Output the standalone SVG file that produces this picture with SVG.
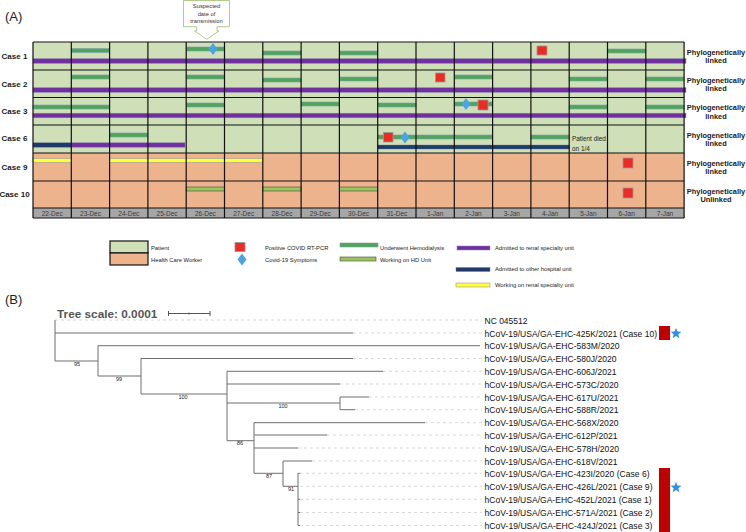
<svg xmlns="http://www.w3.org/2000/svg" width="746" height="532" viewBox="0 0 746 532">
<style>
text{font-family:"Liberation Sans",Arial,sans-serif}
.hd{fill:#4FA65A;stroke:#7E9FAA;stroke-width:0.6}
.pu{fill:#7030A0;stroke:#8B80B5;stroke-width:0.5}
.nv{fill:#1F3A68;stroke:#6A7A9A;stroke-width:0.4}
.ye{fill:#FFFF3C;stroke:#9A9A9A;stroke-width:0.6}
.lg{fill:#9BC45A;stroke:#4A4A4A;stroke-width:0.6}
.rs{fill:#EE2A24;stroke:#9A9A9A;stroke-width:0.8}
.dm{fill:#4BA3E3}
.case{font-size:8px;font-weight:bold;fill:#1a1a1a;text-anchor:middle}
.phy{font-size:7.4px;font-weight:bold;fill:#1a1a1a;text-anchor:middle}
.date{font-size:6.5px;fill:#3a3a3a;text-anchor:middle}
.leg{font-size:5.8px;fill:#1a1a1a}
.grid{stroke:#111;stroke-width:1.2;fill:none}
.br{stroke:#6E6E6E;stroke-width:1;fill:none}
.ds{stroke:#CFCFCF;stroke-width:0.8;stroke-dasharray:3,3;fill:none}
.tip{font-size:9.4px;fill:#111}
.bs{font-size:5.5px;fill:#222;text-anchor:middle}
.star{fill:#2F8FE0}
</style>
<defs>
<path id="dia" d="M0,-6 L4.5,0 L0,6 L-4.5,0 Z"/>
<path id="star" d="M0,-5.8 L1.4,-1.9 L5.5,-1.8 L2.3,0.75 L3.4,4.7 L0,2.4 L-3.4,4.7 L-2.3,0.75 L-5.5,-1.8 L-1.4,-1.9 Z"/>
</defs>

<text x="5" y="21" font-size="13" fill="#222">(A)</text>

<g id="callout">
<path d="M183.5,0.5 L229.5,0.5 L229.5,26.7 L217,26.7 L217,31 L219,31 L206.7,39.3 L194.5,31 L196.7,31 L196.7,26.7 L183.5,26.7 Z" fill="#fff" stroke="#A9C47F" stroke-width="0.9"/>
<text x="206.5" y="8" font-size="5.8" fill="#333" text-anchor="middle">Suspected</text>
<text x="206.5" y="15.5" font-size="5.8" fill="#333" text-anchor="middle">date of</text>
<text x="206.5" y="23" font-size="5.8" fill="#333" text-anchor="middle">transmission</text>
</g>

<g id="grid-background">
<rect x="33" y="42" width="651.1" height="111" fill="#CFE0B9"/>
<rect x="33" y="153" width="651.1" height="55" fill="#EDB38C"/>
<rect x="33" y="208" width="651.1" height="10" fill="#A6A6A6"/>
</g>

<g id="case1">
<text class="case" x="14.5" y="59">Case 1</text>
<rect class="hd" x="71.3" y="48.5" width="38.3" height="4"/>
<rect class="hd" x="186.2" y="47" width="38.3" height="4"/>
<use href="#dia" class="dm" x="213" y="49"/>
<rect class="hd" x="262.8" y="51" width="38.3" height="4"/>
<rect class="hd" x="339.4" y="51" width="38.3" height="4"/>
<rect class="rs" x="537" y="46" width="10" height="9"/>
<rect class="hd" x="607.5" y="49" width="38.3" height="4"/>
<rect class="pu" x="33" y="58.7" width="653" height="4.6"/>
<text class="phy" x="716" y="54.5">Phylogenetically</text>
<text class="phy" x="716" y="63">linked</text>
</g>

<g id="case2">
<text class="case" x="14.5" y="87">Case 2</text>
<rect class="hd" x="71.3" y="75" width="38.3" height="4"/>
<rect class="hd" x="186.2" y="75" width="38.3" height="4"/>
<rect class="hd" x="262.8" y="78" width="38.3" height="4"/>
<rect class="hd" x="339.4" y="77" width="38.3" height="4"/>
<rect class="rs" x="435.5" y="73" width="9.5" height="9"/>
<rect class="hd" x="454.3" y="75" width="38.3" height="4"/>
<rect class="hd" x="569.2" y="77" width="38.3" height="4"/>
<rect class="hd" x="645.8" y="77" width="38.3" height="4"/>
<rect class="pu" x="33" y="87.7" width="653" height="4.6"/>
<text class="phy" x="716" y="82.5">Phylogenetically</text>
<text class="phy" x="716" y="91">linked</text>
</g>

<g id="case3">
<text class="case" x="14.5" y="114">Case 3</text>
<rect class="hd" x="33" y="105" width="76.6" height="4"/>
<rect class="hd" x="186.2" y="103" width="38.3" height="4"/>
<rect class="hd" x="301.1" y="102" width="38.3" height="4"/>
<rect class="hd" x="377.7" y="103" width="38.3" height="4"/>
<rect class="hd" x="454.3" y="102" width="38.3" height="4"/>
<use href="#dia" class="dm" x="466" y="104"/>
<rect class="rs" x="478" y="100" width="10" height="10"/>
<rect class="hd" x="569.2" y="105" width="38.3" height="4"/>
<rect class="hd" x="645.8" y="105" width="38.3" height="4"/>
<rect class="pu" x="33" y="113.2" width="653" height="4.6"/>
<text class="phy" x="716" y="110">Phylogenetically</text>
<text class="phy" x="716" y="118.5">linked</text>
</g>

<g id="case6">
<text class="case" x="14.5" y="141">Case 6</text>
<rect class="nv" x="33" y="142.8" width="38.3" height="4.4"/>
<rect class="pu" x="71.3" y="142.8" width="113.7" height="4.4"/>
<rect class="hd" x="109.6" y="133" width="38.3" height="4"/>
<rect class="hd" x="377.7" y="135" width="114.9" height="4"/>
<rect class="rs" x="383.5" y="132.5" width="9.5" height="9.5"/>
<use href="#dia" class="dm" x="405" y="137.5"/>
<rect class="hd" x="530.9" y="135" width="38.3" height="4"/>
<rect class="nv" x="377.7" y="145" width="191.5" height="4"/>
<text x="572" y="140.5" font-size="6.4" fill="#222">Patient died</text>
<text x="572" y="150.5" font-size="6.4" fill="#222">on 1/4</text>
<text class="phy" x="716" y="137.5">Phylogenetically</text>
<text class="phy" x="716" y="146">linked</text>
</g>

<g id="case9">
<text class="case" x="14.5" y="169.5">Case 9</text>
<rect class="ye" x="33" y="158.5" width="38.3" height="4"/>
<rect class="ye" x="109.6" y="158.5" width="153.2" height="4"/>
<rect class="rs" x="623" y="158" width="10" height="10"/>
<text class="phy" x="716" y="165.5">Phylogenetically</text>
<text class="phy" x="716" y="174">linked</text>
</g>

<g id="case10">
<text class="case" x="14.5" y="197">Case 10</text>
<rect class="lg" x="186.2" y="187" width="38.3" height="4"/>
<rect class="lg" x="262.8" y="187" width="38.3" height="4"/>
<rect class="lg" x="339.4" y="187" width="38.3" height="4"/>
<rect class="rs" x="623" y="188" width="10" height="10"/>
<text class="phy" x="716" y="193.5">Phylogenetically</text>
<text class="phy" x="716" y="202">Unlinked</text>
</g>

<g id="grid-lines">
<path class="grid" d="M33,42H684.1M33,70H684.1M33,97.5H684.1M33,125H684.1M33,153H684.1M33,181H684.1M33,208H684.1M33,218H684.1"/>
<path class="grid" d="M33,42V218M71.3,42V218M109.6,42V218M147.9,42V218M186.2,42V218M224.5,42V218M262.8,42V218M301.1,42V218M339.4,42V218M377.7,42V218M416,42V218M454.3,42V218M492.6,42V218M530.9,42V218M569.2,42V218M607.5,42V218M645.8,42V218M684.1,42V218"/>
</g>

<g id="dates">
<text class="date" x="52.2" y="215.5">22-Dec</text>
<text class="date" x="90.5" y="215.5">23-Dec</text>
<text class="date" x="128.8" y="215.5">24-Dec</text>
<text class="date" x="167.1" y="215.5">25-Dec</text>
<text class="date" x="205.4" y="215.5">26-Dec</text>
<text class="date" x="243.7" y="215.5">27-Dec</text>
<text class="date" x="282" y="215.5">28-Dec</text>
<text class="date" x="320.3" y="215.5">29-Dec</text>
<text class="date" x="358.6" y="215.5">30-Dec</text>
<text class="date" x="396.9" y="215.5">31-Dec</text>
<text class="date" x="435.2" y="215.5">1-Jan</text>
<text class="date" x="473.5" y="215.5">2-Jan</text>
<text class="date" x="511.8" y="215.5">3-Jan</text>
<text class="date" x="550.1" y="215.5">4-Jan</text>
<text class="date" x="588.4" y="215.5">5-Jan</text>
<text class="date" x="626.7" y="215.5">6-Jan</text>
<text class="date" x="665" y="215.5">7-Jan</text>
</g>

<g id="legend">
<rect x="110" y="241" width="38" height="12" fill="#CFE0B9" stroke="#111" stroke-width="1.2"/>
<rect x="110" y="253" width="38" height="12" fill="#EDB38C" stroke="#111" stroke-width="1.2"/>
<text class="leg" x="151" y="250">Patient</text>
<text class="leg" x="151" y="262">Health Care Worker</text>
<rect class="rs" x="235" y="242.5" width="10" height="9"/>
<text class="leg" x="265" y="249.5">Positive COVID RT-PCR</text>
<use href="#dia" class="dm" x="242" y="259.5"/>
<text class="leg" x="265" y="262">Covid-19 Symptoms</text>
<rect class="hd" x="340" y="243" width="38" height="4"/>
<text class="leg" x="380" y="249.5">Underwent Hemodialysis</text>
<rect class="lg" x="340" y="257" width="36" height="4"/>
<text class="leg" x="380" y="262">Working on HD Unit</text>
<rect class="pu" x="457" y="246" width="33" height="4"/>
<text class="leg" x="495" y="250">Admitted to renal specialty unit</text>
<rect class="nv" x="456" y="267.5" width="34" height="4"/>
<text class="leg" x="495" y="271">Admitted to other hospital unit</text>
<rect class="ye" x="456" y="283" width="34" height="4"/>
<text class="leg" x="495" y="287">Working on renal specialty unit</text>
</g>

<text x="5" y="304" font-size="13" fill="#222">(B)</text>

<g id="tree-scale">
<text x="57" y="318" font-size="11.8" font-weight="bold" fill="#555">Tree scale: 0.0001</text>
<path d="M168.5,311v5M168.5,313.5H210M189,312.5v2M210,311v5" stroke="#555" stroke-width="1" fill="none"/>
</g>

<g id="connectors">
<path class="ds" d="M55,320H482M353,333H482M353,358.5H482M383,371.3H482M340,384H482M369,397H482M355,409.7H482M425,422.7H482M327,435H482M298,448H482M312,461H482M300,473.3H482M300,486.3H482M300,499.3H482M300,512.5H482M300,525.5H482"/>
<path class="br" d="M55,320V361M55,333H353M55,361H98M98,345.7V376M98,345.7H480M98,376H141M141,358.5V394M141,358.5H353M141,394H227M227,371.3V440.7M227,371.3H383M227,384H340M227,403H340M340,397V409.7M340,397H369M340,409.7H355M227,440.7H254M254,422.7V473.3M254,422.7H425M254,435H327M254,448H298M254,473.3H283M283,461V486.3M283,461H312M283,486.3H298M298,473.3V525.5M298,473.3H300M298,499.3H300M298,512.5H300M298,525.5H300"/>
<text class="bs" x="77" y="366">95</text>
<text class="bs" x="119" y="381">99</text>
<text class="bs" x="183" y="399">100</text>
<text class="bs" x="283" y="408">100</text>
<text class="bs" x="240" y="445">86</text>
<text class="bs" x="269" y="478">87</text>
<text class="bs" x="291" y="491">91</text>
</g>

<g id="tips">
<text class="tip" x="484.5" y="323.5" textLength="43" lengthAdjust="spacingAndGlyphs">NC 045512</text>
<text class="tip" x="484.5" y="336.5" textLength="172.5" lengthAdjust="spacingAndGlyphs">hCoV-19/USA/GA-EHC-425K/2021 (Case 10)</text>
<text class="tip" x="484.5" y="349.2" textLength="135" lengthAdjust="spacingAndGlyphs">hCoV-19/USA/GA-EHC-583M/2020</text>
<text class="tip" x="484.5" y="362" textLength="132" lengthAdjust="spacingAndGlyphs">hCoV-19/USA/GA-EHC-580J/2020</text>
<text class="tip" x="484.5" y="374.8" textLength="132" lengthAdjust="spacingAndGlyphs">hCoV-19/USA/GA-EHC-606J/2021</text>
<text class="tip" x="484.5" y="387.5" textLength="134" lengthAdjust="spacingAndGlyphs">hCoV-19/USA/GA-EHC-573C/2020</text>
<text class="tip" x="484.5" y="400.5" textLength="134" lengthAdjust="spacingAndGlyphs">hCoV-19/USA/GA-EHC-617U/2021</text>
<text class="tip" x="484.5" y="413.2" textLength="134" lengthAdjust="spacingAndGlyphs">hCoV-19/USA/GA-EHC-588R/2021</text>
<text class="tip" x="484.5" y="426.2" textLength="134" lengthAdjust="spacingAndGlyphs">hCoV-19/USA/GA-EHC-568X/2020</text>
<text class="tip" x="484.5" y="438.5" textLength="133" lengthAdjust="spacingAndGlyphs">hCoV-19/USA/GA-EHC-612P/2021</text>
<text class="tip" x="484.5" y="451.5" textLength="134.5" lengthAdjust="spacingAndGlyphs">hCoV-19/USA/GA-EHC-578H/2020</text>
<text class="tip" x="484.5" y="464.5" textLength="133" lengthAdjust="spacingAndGlyphs">hCoV-19/USA/GA-EHC-618V/2021</text>
<text class="tip" x="484.5" y="476.8" textLength="165" lengthAdjust="spacingAndGlyphs">hCoV-19/USA/GA-EHC-423I/2020 (Case 6)</text>
<text class="tip" x="484.5" y="489.8" textLength="168" lengthAdjust="spacingAndGlyphs">hCoV-19/USA/GA-EHC-426L/2021 (Case 9)</text>
<text class="tip" x="484.5" y="502.8" textLength="167" lengthAdjust="spacingAndGlyphs">hCoV-19/USA/GA-EHC-452L/2021 (Case 1)</text>
<text class="tip" x="484.5" y="516" textLength="168" lengthAdjust="spacingAndGlyphs">hCoV-19/USA/GA-EHC-571A/2021 (Case 2)</text>
<text class="tip" x="484.5" y="529" textLength="168" lengthAdjust="spacingAndGlyphs">hCoV-19/USA/GA-EHC-424J/2021 (Case 3)</text>
</g>

<g id="annotations">
<rect x="659" y="326" width="11" height="14" fill="#C00000"/>
<use href="#star" class="star" x="676" y="333.5"/>
<rect x="659" y="468" width="11" height="64" fill="#C00000"/>
<use href="#star" class="star" x="676" y="487.5"/>
</g>
</svg>
